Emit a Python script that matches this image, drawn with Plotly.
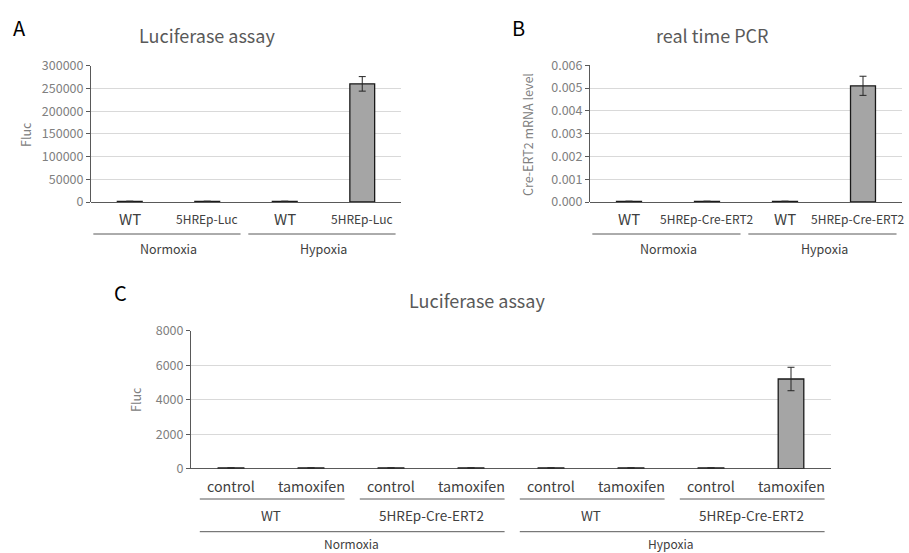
import plotly.graph_objects as go

# ---------------- data ----------------
a_categories = ["WT", "5HREp-Luc", "WT", "5HREp-Luc"]
a_groups = ["Normoxia", "Hypoxia"]
a_values = [1500, 1500, 1500, 260000]
a_errors = [0, 0, 0, 16000]
a_ticks = [0, 50000, 100000, 150000, 200000, 250000, 300000]

b_categories = ["WT", "5HREp-Cre-ERT2", "WT", "5HREp-Cre-ERT2"]
b_groups = ["Normoxia", "Hypoxia"]
b_values = [0.00003, 0.00003, 0.00003, 0.0051]
b_errors = [0, 0, 0, 0.00042]
b_ticks = [0.000, 0.001, 0.002, 0.003, 0.004, 0.005, 0.006]

c_categories = ["control", "tamoxifen", "control", "tamoxifen",
                "control", "tamoxifen", "control", "tamoxifen"]
c_sub_groups = ["WT", "5HREp-Cre-ERT2", "WT", "5HREp-Cre-ERT2"]
c_groups = ["Normoxia", "Hypoxia"]
c_values = [40, 40, 40, 40, 40, 40, 40, 5200]
c_errors = [0, 0, 0, 0, 0, 0, 0, 680]
c_ticks = [0, 2000, 4000, 6000, 8000]

FONT = "Noto Sans CJK JP"
BAR_FILL = "#a5a5a5"
TICK_COLOR = "#808080"
LABEL_COLOR = "#404040"
GRID = "#d9d9d9"
W, H = 909, 553


def px_x(p):
    return p / W


def px_y(p):
    return 1 - p / H


fig = go.Figure()


def add_bars(values, errors, xa, ya):
    fig.add_trace(go.Bar(
        x=list(range(len(values))), y=values,
        marker=dict(color=BAR_FILL, line=dict(color="#1a1a1a", width=1.3)),
        width=0.32,
        error_y=dict(type="data", array=errors, visible=True,
                     color="#262626", thickness=1, width=3.5),
        xaxis=xa, yaxis=ya, showlegend=False, hoverinfo="skip"))


add_bars(a_values, a_errors, "x", "y")
add_bars(b_values, b_errors, "x2", "y2")
add_bars(c_values, c_errors, "x3", "y3")


def xaxis_cfg(n, dom, anchor):
    return dict(domain=dom, range=[-0.5, n - 0.5], anchor=anchor,
                showticklabels=False, ticks="", showgrid=False,
                zeroline=False, showline=False, fixedrange=True)


def yaxis_cfg(dom, rng, ticks, anchor, fmt):
    return dict(domain=dom, range=rng, anchor=anchor, tickvals=ticks,
                tickformat=fmt, showgrid=True, gridcolor=GRID, gridwidth=1,
                showline=True, linecolor="#595959", linewidth=1,
                ticks="outside", ticklen=4, tickcolor="#595959",
                tickfont=dict(family=FONT, size=12.5, color=TICK_COLOR),
                zeroline=True, zerolinecolor="#595959", zerolinewidth=1.2,
                automargin=False, fixedrange=True)


fig.update_layout(
    width=W, height=H,
    margin=dict(l=0, r=0, t=0, b=0, autoexpand=False),
    paper_bgcolor="white", plot_bgcolor="white",
    xaxis=xaxis_cfg(4, [px_x(91), px_x(401)], "y"),
    yaxis=yaxis_cfg([px_y(202), px_y(65.7)], [0, 300000], a_ticks, "x", "d"),
    xaxis2=xaxis_cfg(4, [px_x(590), px_x(902)], "y2"),
    yaxis2=yaxis_cfg([px_y(202), px_y(65.3)], [0, 0.006], b_ticks, "x2", ".3f"),
    xaxis3=xaxis_cfg(8, [px_x(191), px_x(831)], "y3"),
    yaxis3=yaxis_cfg([px_y(468.7), px_y(330.7)], [0, 8000], c_ticks, "x3", "d"),
)

annotations = []
shapes = []


def text(x, y, s, size, color, xref="paper", yref="paper", angle=0):
    annotations.append(dict(x=x, y=y, xref=xref, yref=yref, text=s,
                            showarrow=False, textangle=angle,
                            xanchor="center", yanchor="middle",
                            font=dict(family=FONT, size=size, color=color)))


def hline(x0, x1, y, xref):
    shapes.append(dict(type="line", xref=xref, yref="paper", x0=x0, x1=x1,
                       y0=y, y1=y, line=dict(color="#595959", width=1)))


# Panel letters
text(px_x(19), px_y(27), "A", 20, "#000000")
text(px_x(518), px_y(27), "B", 20, "#000000")
text(px_x(121), px_y(292), "C", 20, "#000000")

# Titles
text(px_x(207), px_y(35), "Luciferase assay", 18, "#595959")
text(px_x(712), px_y(35), "real time PCR", 18, "#595959")
text(px_x(477), px_y(300), "Luciferase assay", 18, "#595959")

# Y titles
text(px_x(25), px_y(135), "Fluc", 12.5, TICK_COLOR, angle=-90)
text(px_x(527), px_y(135), "Cre-ERT2 mRNA level", 12.5, TICK_COLOR, angle=-90)
text(px_x(135), px_y(400), "Fluc", 12.5, TICK_COLOR, angle=-90)

# Panel A & B category labels
for cats, groups, xref in [(a_categories, a_groups, "x"), (b_categories, b_groups, "x2")]:
    for i, c in enumerate(cats):
        size = 15 if len(c) <= 3 else 12
        xpos = i
        if xref == "x2" and i == len(cats) - 1:
            xpos = i - 0.06
        text(xpos, px_y(218), c, size, LABEL_COLOR, xref=xref)
    for g, name in enumerate(groups):
        first, last = 2 * g, 2 * g + 1
        hline(first - 0.47, last + 0.43, px_y(234), xref)
        text((first + last) / 2, px_y(249), name, 12.5, LABEL_COLOR, xref=xref)

# Panel C labels
for i, c in enumerate(c_categories):
    text(i, px_y(485), c, 14.3, LABEL_COLOR, xref="x3")
for g, name in enumerate(c_sub_groups):
    first, last = 2 * g, 2 * g + 1
    hline(first - 0.39, last + 0.42, px_y(499), "x3")
    text((first + last) / 2, px_y(515), name, 13.5, LABEL_COLOR, xref="x3")
for g, name in enumerate(c_groups):
    first, last = 4 * g, 4 * g + 3
    hline(first - 0.39, last + 0.42, px_y(531.7), "x3")
    text((first + last) / 2, px_y(543.5), name, 12, LABEL_COLOR, xref="x3")

fig.update_layout(annotations=annotations, shapes=shapes)

fig.write_html(
    "out.html",
    config={"displayModeBar": False},
    post_script="document.body.style.margin='0';document.body.style.overflow='hidden';",
)
